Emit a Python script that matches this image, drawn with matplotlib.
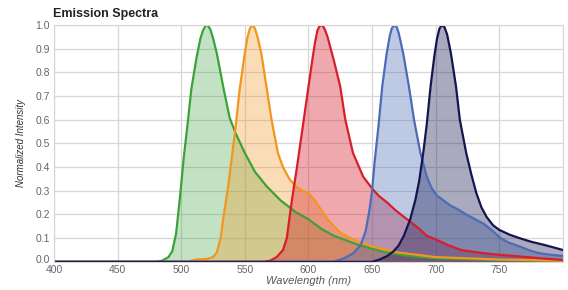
import matplotlib.pyplot as plt
import matplotlib.transforms as mtransforms

# emission spectra, values
green_wl = [400, 480, 485, 490, 493, 496, 499, 502, 505, 508, 512, 515, 517, 519, 520, 521, 523, 525, 528, 533,
            538, 543, 550, 558, 567, 578, 590, 600, 610, 620, 630, 640, 650, 660, 680, 700, 750, 800]
green_val = [0, 0, 0.005, 0.02, 0.045, 0.12, 0.27, 0.44, 0.58, 0.73, 0.86, 0.94, 0.975, 0.995, 1.0, 0.998,
             0.98, 0.945, 0.88, 0.74, 0.61, 0.54, 0.46, 0.38, 0.32, 0.26, 0.21, 0.18, 0.14, 0.11, 0.09, 0.07,
             0.055, 0.04, 0.025, 0.015, 0.008, 0.004]

orange_wl = [400, 505, 512, 520, 525, 528, 531, 533, 537, 540, 543, 546, 550, 552, 554, 556, 558, 560, 563, 567,
             571, 576, 580, 585, 590, 595, 600, 605, 610, 615, 620, 626, 635, 650, 670, 700, 750, 800]
orange_val = [0, 0, 0.01, 0.012, 0.02, 0.04, 0.1, 0.18, 0.32, 0.45, 0.58, 0.73, 0.88, 0.945, 0.985, 1.0, 0.985,
              0.95, 0.88, 0.74, 0.6, 0.46, 0.4, 0.35, 0.32, 0.3, 0.29, 0.26, 0.22, 0.18, 0.15, 0.12, 0.095,
              0.065, 0.04, 0.02, 0.01, 0.005]

red_wl = [400, 565, 570, 575, 580, 583, 587, 591, 595, 599, 603, 605, 607, 608.5, 610, 611.5, 613, 615, 620,
          625, 629, 635, 643, 650, 655, 662, 668, 675, 680, 687, 693, 700, 710, 720, 737, 750, 768, 785, 800]
red_val = [0, 0, 0.005, 0.02, 0.05, 0.1, 0.26, 0.4, 0.55, 0.7, 0.85, 0.92, 0.975, 0.993, 1.0, 0.995, 0.98,
           0.95, 0.85, 0.74, 0.6, 0.46, 0.36, 0.31, 0.28, 0.25, 0.22, 0.19, 0.17, 0.14, 0.11, 0.095, 0.07,
           0.05, 0.037, 0.03, 0.022, 0.014, 0.008]

blue_wl = [400, 620, 628, 635, 641, 645, 648, 650, 652, 655, 658, 661.5, 664, 665.5, 667.5, 669.5, 671, 674.5,
           679, 683, 688, 693, 697, 701, 706, 711, 718, 724, 731, 738, 745, 751, 758, 766, 773, 781, 790, 800]
blue_val = [0, 0, 0.015, 0.035, 0.07, 0.13, 0.22, 0.3, 0.42, 0.57, 0.74, 0.88, 0.955, 0.985, 1.0, 0.99, 0.965,
            0.88, 0.74, 0.6, 0.46, 0.36, 0.31, 0.28, 0.26, 0.24, 0.22, 0.2, 0.18, 0.16, 0.13, 0.1, 0.08,
            0.065, 0.05, 0.037, 0.03, 0.025]

navy_wl = [400, 650, 656, 662, 667, 671, 675, 680, 684, 687, 690, 693, 696, 699, 701, 703, 705, 707, 709, 712,
           716, 719, 724, 728, 732, 736, 740, 745, 750, 758, 766, 775, 785, 792, 800]
navy_val = [0, 0, 0.01, 0.025, 0.045, 0.07, 0.11, 0.18, 0.26, 0.34, 0.45, 0.58, 0.74, 0.87, 0.94, 0.985, 1.0,
            0.99, 0.96, 0.88, 0.74, 0.6, 0.46, 0.37, 0.29, 0.23, 0.19, 0.155, 0.135, 0.115, 0.1, 0.085, 0.072,
            0.062, 0.05]

series = [
    (green_wl, green_val, '#3ba23b', 0.30),
    (orange_wl, orange_val, '#f2961e', 0.32),
    (red_wl, red_val, '#d61f2a', 0.38),
    (blue_wl, blue_val, '#4d6cb6', 0.36),
    (navy_wl, navy_val, '#15154f', 0.36),
]

fig = plt.figure(figsize=(5.68, 2.9), dpi=100)
ax = fig.add_axes([0.095, 0.097, 0.896, 0.817])

for wl, val, col, a in series:
    ax.fill_between(wl, val, 0, color=col, alpha=a, linewidth=0)
    ax.plot(wl, val, color=col, lw=1.6, solid_joinstyle='round')

ax.set_xlim(400, 800)
ax.set_ylim(0, 1.0)
ax.set_xticks([400, 450, 500, 550, 600, 650, 700, 750, 800])
ax.set_xticklabels(['400', '450', '500', '550', '600', '650', '700', '750', ''])
ax.set_yticks([i / 10 for i in range(11)])
ax.set_yticklabels(['%.1f' % (i / 10) for i in range(11)])
ax.grid(True, color='#d6d6d6', lw=0.9)
ax.set_axisbelow(True)
for s in ax.spines.values():
    s.set_color('#d6d6d6')
ax.tick_params(length=0, labelsize=7.5, labelcolor='#666666', pad=3)
ax.tick_params(axis='x', pad=2.5)
for lab in ax.get_xticklabels() + ax.get_yticklabels():
    lab.set_family('Liberation Sans')

# nudge "0.0" up a little so it does not sit on top of "400"
lab0 = ax.get_yticklabels()[0]
lab0.set_transform(lab0.get_transform() + mtransforms.ScaledTranslation(0, 2 / 72, fig.dpi_scale_trans))

ax.set_xlabel('Wavelength (nm)', fontsize=8, style='italic', color='#555555',
              family='Liberation Sans', labelpad=0.5)
ax.set_ylabel('Normalized Intensity', fontsize=7, style='italic', color='#333333',
              family=['Liberation Sans Narrow', 'Liberation Sans'], labelpad=7)
fig.text(0.093, 0.952, 'Emission Spectra', fontsize=9, weight='bold', color='#222222',
         family='Liberation Sans', va='center', ha='left')

fig.savefig('out.png', dpi=100)
